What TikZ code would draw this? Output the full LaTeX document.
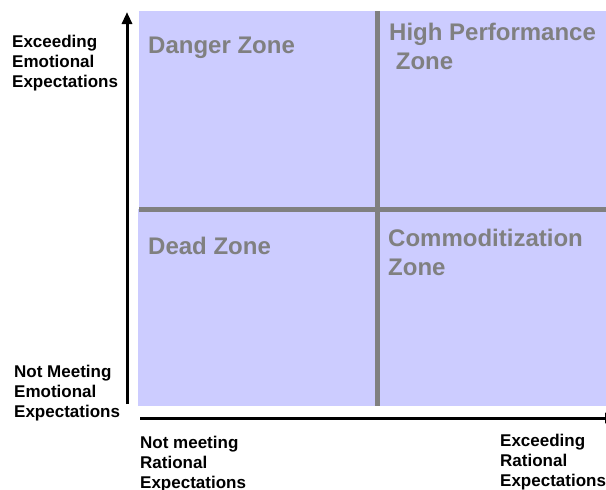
\documentclass[tikz,border=0pt]{standalone}
\usepackage{fontspec}
\setmainfont{Liberation Sans}
\usetikzlibrary{arrows.meta, positioning, calc}
\definecolor{zonefill}{HTML}{CCCCFF}
\definecolor{zonegray}{HTML}{808080}
\tikzset{
  zone/.style={
    rectangle, anchor=north west, inner sep=0pt,
    fill=zonefill,
  },
  zonelabel/.style={
    anchor=north west, align=left, inner sep=0pt,
    text=zonegray, font=\fontsize{24}{29}\selectfont\bfseries,
  },
  axislabel/.style={
    anchor=north west, align=left, inner sep=0pt,
    font=\fontsize{17}{20}\selectfont\bfseries,
  },
  axis/.style={-{Triangle[length=12pt, width=10pt]}, line width=3pt, black},
  divider/.style={line width=5pt, color=zonegray},
}
\begin{document}
\begin{tikzpicture}[x=1pt, y=-1pt]
  \useasboundingbox (0,0) rectangle (606,490);

  % Quadrants
  \node[zone, minimum width=238pt, minimum height=198pt] (danger) at (139,11) {};
  \node[zone, minimum width=235pt, minimum height=198pt] (perf) at (377,11) {};
  \node[zone, minimum width=239pt, minimum height=197pt] (dead) at (138,209) {};
  \node[zone, minimum width=235pt, minimum height=197pt] (commod) at (377,209) {};

  % Dividers
  \draw[divider] (perf.north west) -- (commod.south west);
  \draw[divider] (danger.south west) -- (perf.south east);

  % Zone names
  \node[zonelabel] (dangerlbl) at (148,37) {Danger Zone};
  \node[zonelabel] (perflbl) at (389,23) {High Performance\\\ Zone};
  \node[zonelabel] (deadlbl) at (148,237) {Dead Zone};
  \node[zonelabel] (commodlbl) at (388,229) {Commoditization\\Zone};

  % Axes
  \coordinate (vbot) at (127,404);
  \coordinate (vtop) at (127,12);
  \coordinate (hleft) at (140,418);
  \coordinate (hright) at (617,418);
  \draw[axis] (vbot) -- (vtop);
  \draw[axis] (hleft) -- (hright);

  % Axis labels
  \node[axislabel] (emohigh) at (12,35) {Exceeding\\Emotional\\Expectations};
  \node[axislabel] (emolow) at (14,365) {Not Meeting\\Emotional\\Expectations};
  \node[axislabel] (ratlow) at (140,436) {Not meeting\\Rational\\Expectations};
  \node[axislabel] (rathigh) at (500,434) {Exceeding\\Rational\\Expectations};

\end{tikzpicture}
\end{document}
